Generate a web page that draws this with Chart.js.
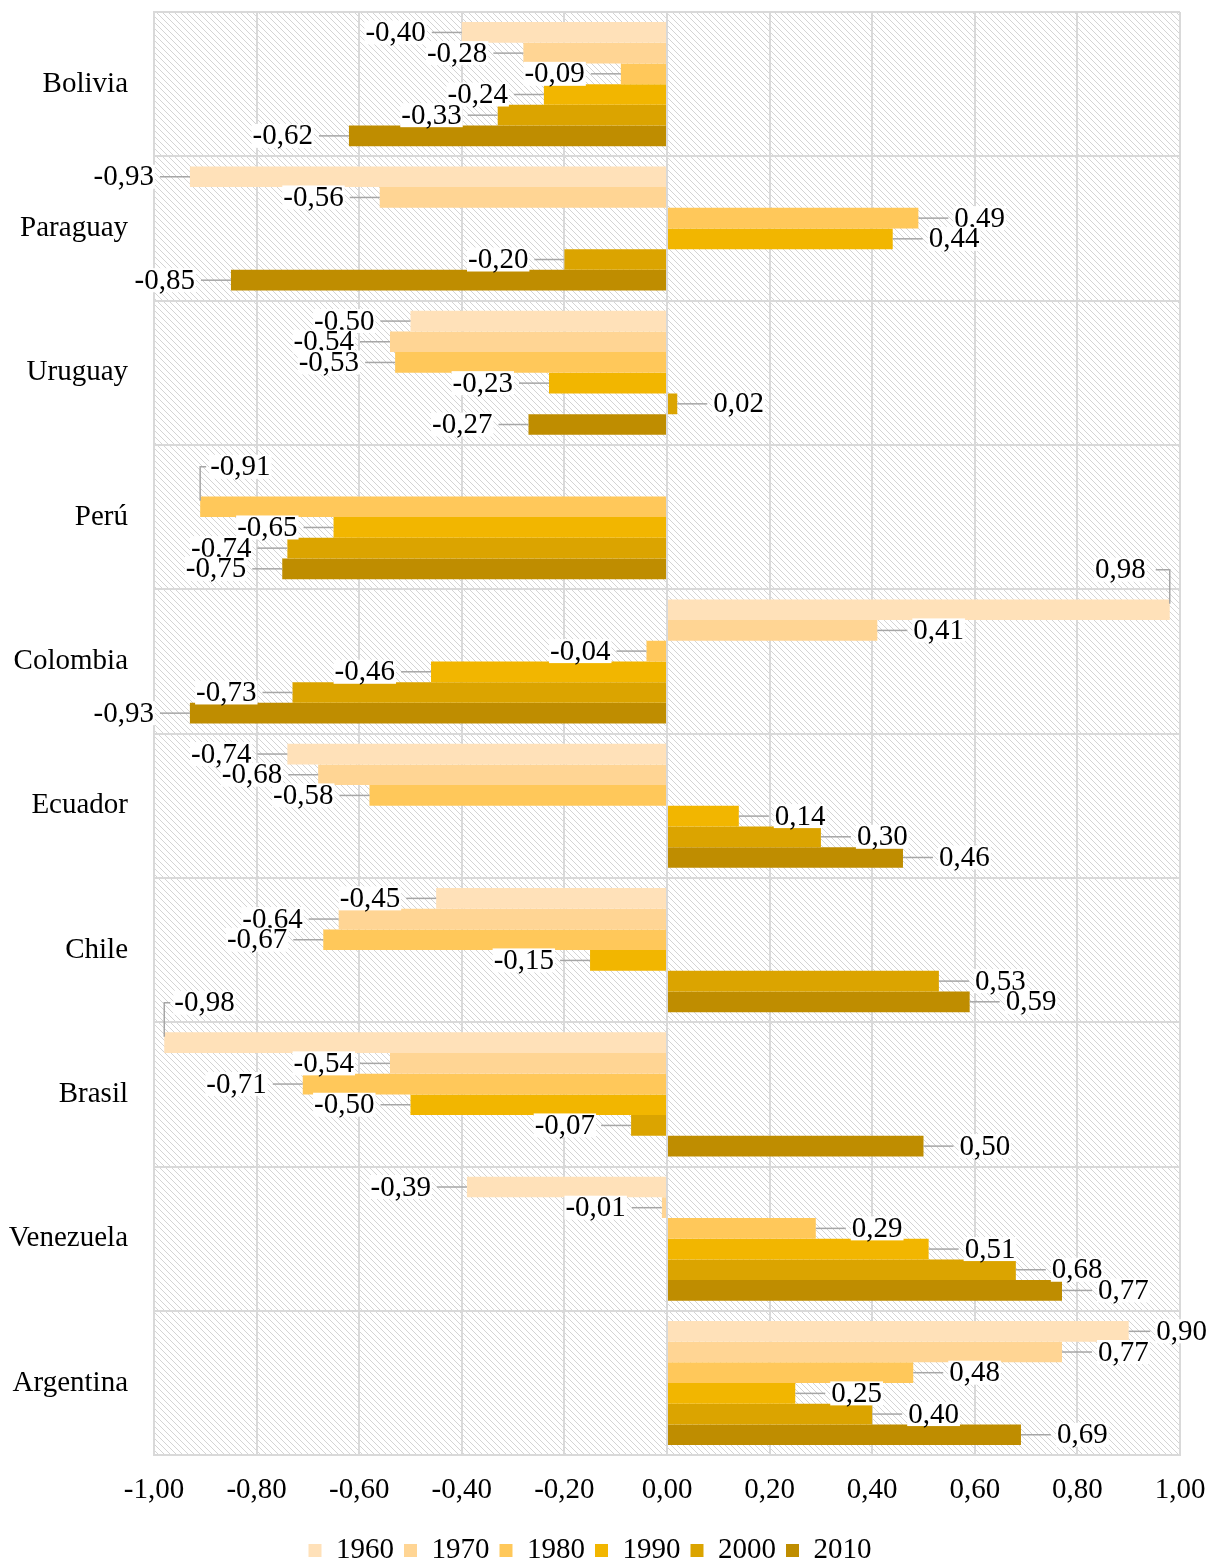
<!DOCTYPE html>
<html>
<head>
<meta charset="utf-8">
<script src="https://cdn.jsdelivr.net/npm/chart.js@4/dist/chart.umd.min.js"></script>
<style>
  html, body { margin: 0; padding: 0; background: #fff; }
  #wrap { width: 1209px; height: 1562px; position: relative; }
</style>
</head>
<body>
<div id="wrap"><canvas id="c"></canvas></div>
<script>
'use strict';

// ── Data ─────────────────────────────────────────────────────────────────────
const countries = ['Bolivia', 'Paraguay', 'Uruguay', 'Perú', 'Colombia', 'Ecuador', 'Chile', 'Brasil', 'Venezuela', 'Argentina'];
const years = ['1960', '1970', '1980', '1990', '2000', '2010'];

const v1960 = [-0.40, -0.93, -0.50, null, 0.98, -0.74, -0.45, -0.98, -0.39, 0.90];
const v1970 = [-0.28, -0.56, -0.54, null, 0.41, -0.68, -0.64, -0.54, -0.01, 0.77];
const v1980 = [-0.09, 0.49, -0.53, -0.91, -0.04, -0.58, -0.67, -0.71, 0.29, 0.48];
const v1990 = [-0.24, 0.44, -0.23, -0.65, -0.46, 0.14, -0.15, -0.50, 0.51, 0.25];
const v2000 = [-0.33, -0.20, 0.02, -0.74, -0.73, 0.30, 0.53, -0.07, 0.68, 0.40];
const v2010 = [-0.62, -0.85, -0.27, -0.75, -0.93, 0.46, 0.59, 0.50, 0.77, 0.69];

const xTicks = [-1, -0.8, -0.6, -0.4, -0.2, 0, 0.2, 0.4, 0.6, 0.8, 1];

const series = [v1960, v1970, v1980, v1990, v2000, v2010];
const colors = ['#FFE1B9', '#FFD594', '#FFC85A', '#F2B600', '#DBA400', '#BF8D00'];

const FONT = '"Liberation Serif", "Times New Roman", serif';
const FS = 29;
const Y_PAD = 26;

// ── Helpers ──────────────────────────────────────────────────────────────────
function fmt(v) {
  return v.toFixed(2).replace('.', ',');
}

function hatchPattern(ctx) {
  const n = 6;
  const p = document.createElement('canvas');
  p.width = n; p.height = n;
  const g = p.getContext('2d');
  g.fillStyle = '#ffffff';
  g.fillRect(0, 0, n, n);
  g.strokeStyle = '#d4d4d4';
  g.lineWidth = 1;
  g.beginPath();
  g.moveTo(0, 0); g.lineTo(n, n);
  g.moveTo(-1, n - 1); g.lineTo(1, n + 1);
  g.moveTo(n - 1, -1); g.lineTo(n + 1, 1);
  g.stroke();
  return ctx.createPattern(p, 'repeat');
}

// ── Plugins ──────────────────────────────────────────────────────────────────
const hatchBg = {
  id: 'hatchBg',
  beforeDraw(chart) {
    const { ctx, chartArea: a } = chart;
    ctx.save();
    ctx.fillStyle = hatchPattern(ctx);
    ctx.fillRect(a.left, a.top, a.right - a.left, a.bottom - a.top);
    ctx.restore();
  }
};

const barLabels = {
  id: 'barLabels',
  afterDatasetsDraw(chart) {
    const ctx = chart.ctx;
    const area = chart.chartArea;
    const yScale = chart.scales.y;
    ctx.save();
    ctx.font = FS + 'px ' + FONT;
    ctx.textBaseline = 'middle';
    ctx.textAlign = 'left';
    chart.data.datasets.forEach((ds, di) => {
      const meta = chart.getDatasetMeta(di);
      meta.data.forEach((el, i) => {
        const v = ds.data[i];
        if (v === null || v === undefined) return;
        const dir = v >= 0 ? 1 : -1;
        const txt = fmt(v);
        const w = ctx.measureText(txt).width;
        const x0 = el.x;
        let x1 = x0 + dir * 30;
        let tx = dir > 0 ? x1 + 6 : x1 - 6 - w;
        let ty = el.y;
        if (dir > 0 && tx + w > chart.width - 2) {
          tx = chart.width - 2 - w;
          x1 = tx - 6;
        }
        // would the label hit the country name or have no room?
        const catY = yScale.getPixelForValue(i);
        const hitsName = tx < area.left - Y_PAD && Math.abs(ty - catY) < 30;
        const noRoom = (dir > 0 && x1 - x0 < 8) || tx < area.left - 80;
        ctx.strokeStyle = '#a6a6a6';
        ctx.lineWidth = 1.5;
        ctx.beginPath();
        if (hitsName || noRoom) {
          ty = el.y - 40;
          tx = dir > 0 ? x0 - 24 - w : x0 + 10;
          ctx.moveTo(x0, el.y - 6);
          ctx.lineTo(x0, ty);
          ctx.lineTo(x0 + (dir > 0 ? -14 : 6), ty);
        } else {
          ctx.moveTo(x0, el.y);
          ctx.lineTo(x1, el.y);
        }
        ctx.stroke();
        ctx.fillStyle = '#ffffff';
        ctx.fillRect(tx - 1, ty - 12, w + 2, 24);
        ctx.fillStyle = '#000000';
        ctx.fillText(txt, tx, ty + 1);
      });
    });
    ctx.restore();
  }
};

// ── Chart ────────────────────────────────────────────────────────────────────
new Chart(document.getElementById('c'), {
  type: 'bar',
  data: {
    labels: countries,
    datasets: years.map((y, i) => ({
      label: y,
      data: series[i],
      backgroundColor: colors[i],
      borderWidth: 0,
      categoryPercentage: 0.86,
      barPercentage: 1.0,
    })),
  },
  options: {
    indexAxis: 'y',
    responsive: true,
    maintainAspectRatio: false,
    animation: false,
    layout: { padding: { left: 0, right: 29, top: 12, bottom: -13 } },
    plugins: {
      legend: {
        position: 'bottom',
        labels: {
          color: '#000',
          font: { family: FONT, size: FS },
          boxWidth: 13,
          boxHeight: 13,
          padding: 10,
        },
      },
      tooltip: { enabled: false },
    },
    scales: {
      x: {
        min: -1,
        max: 1,
        afterBuildTicks: axis => { axis.ticks = xTicks.map(v => ({ value: v })); },
        afterFit: s => { s.paddingLeft = 0; s.paddingRight = 0; },
        ticks: {
          color: '#000',
          font: { family: FONT, size: FS },
          padding: 18,
          maxRotation: 0,
          callback: v => fmt(v),
        },
        grid: { color: '#d9d9d9', lineWidth: 2, drawTicks: false },
        border: { color: '#d9d9d9', width: 2 },
      },
      y: {
        afterFit: s => { s.paddingTop = 0; s.paddingBottom = 0; s.width = 154; },
        ticks: {
          color: '#000',
          font: { family: FONT, size: FS },
          padding: Y_PAD,
        },
        grid: { color: '#d9d9d9', lineWidth: 2, offset: true, drawTicks: false },
        border: { color: '#d9d9d9', width: 2 },
      },
    },
  },
  plugins: [hatchBg, barLabels],
});
</script>
</body>
</html>
